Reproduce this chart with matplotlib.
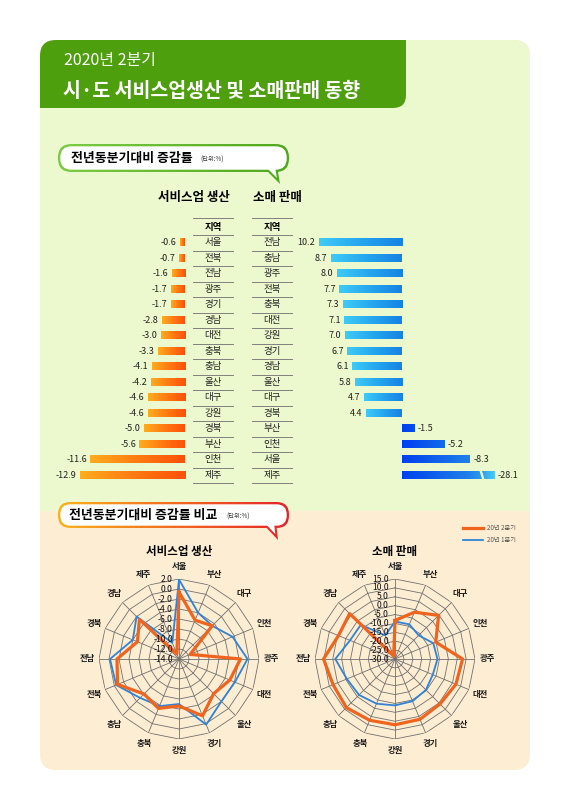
import numpy as np
import matplotlib
matplotlib.use("Agg")
import matplotlib.pyplot as plt
from matplotlib.patches import FancyBboxPatch, Rectangle, Polygon
from matplotlib.colors import LinearSegmentedColormap
from matplotlib.lines import Line2D
from matplotlib.transforms import blended_transform_factory

plt.rcParams['font.family'] = ['Noto Sans CJK KR', 'DejaVu Sans']
NARROW = ['Liberation Sans Narrow', 'Noto Sans CJK KR', 'DejaVu Sans']

# 서비스업 생산, 2020년 2분기 전년동분기대비 증감률 (%)
svc_regions = ['서울', '전북', '전남', '광주', '경기', '경남', '대전', '충북',
               '충남', '울산', '대구', '강원', '경북', '부산', '인천', '제주']
svc_values = [-0.6, -0.7, -1.6, -1.7, -1.7, -2.8, -3.0, -3.3,
              -4.1, -4.2, -4.6, -4.6, -5.0, -5.6, -11.6, -12.9]

# 소매 판매
retail_regions = ['전남', '충남', '광주', '전북', '충북', '대전', '강원', '경기',
                  '경남', '울산', '대구', '경북', '부산', '인천', '서울', '제주']
retail_values = [10.2, 8.7, 8.0, 7.7, 7.3, 7.1, 7.0, 6.7,
                 6.1, 5.8, 4.7, 4.4, -1.5, -5.2, -8.3, -28.1]

# 방사형 차트 (시계방향, 서울부터)
radar_regions = ['서울', '부산', '대구', '인천', '광주', '대전', '울산', '경기',
                 '강원', '충북', '충남', '전북', '전남', '경북', '경남', '제주']
svc_q1 = [1.9, -4.0, -4.6, -2.4, -0.3, -1.9, -2.0, 0.2,
          -5.0, -3.8, -3.0, -0.4, -0.2, -4.0, -2.0, -10.5]
retail_q1 = [-8.9, -8.9, -11.2, -6.7, -6.1, -7.0, -5.4, -4.3,
             -3.9, -2.8, -1.4, -0.7, 3.6, -2.6, -2.8, -15.6]
svc_ticks = [2.0, 0.0, -2.0, -4.0, -6.0, -8.0, -10.0, -12.0, -14.0]
retail_ticks = [15.0, 10.0, 5.0, 0.0, -5.0, -10.0, -15.0, -20.0, -25.0, -30.0]
legend_labels = ['20년 2분기', '20년 1분기']

ORANGE = '#f0641e'
BLUE = '#2f83d6'
GRID = '#707070'

W, H = 570, 806
fig = plt.figure(figsize=(W / 100, H / 100), dpi=100)
bg = fig.add_axes([0, 0, 1, 1])
bg.set_xlim(0, W)
bg.set_ylim(H, 0)
bg.axis('off')


def box(x0, y0, x1, y1):
    return [x0 / W, 1 - y1 / H, (x1 - x0) / W, (y1 - y0) / H]


# panel
panel = FancyBboxPatch((40, 40), 490, 730, boxstyle='round,pad=0,rounding_size=16',
                       fc='#fdedd3', ec='none', zorder=0)
bg.add_patch(panel)
top = Rectangle((40, 40), 490, 471, fc='#ecf8cd', ec='none', zorder=0.5)
bg.add_patch(top)
top.set_clip_path(panel)
banner = FancyBboxPatch((20, 20), 386, 88, boxstyle='round,pad=0,rounding_size=13',
                        fc='#4e9f0e', ec='none', zorder=1)
bg.add_patch(banner)
banner.set_clip_path(panel)
bg.text(64, 61, '2020년 2분기', color='white', fontsize=11.5, fontweight='medium',
        va='center', zorder=2)
bg.text(63, 91, '시·도 서비스업생산 및 소매판매 동향', color='white', fontsize=14,
        fontweight='bold', va='center', zorder=2)


def bubble(x0, y0, x1, y1, tail, colors):
    cmap = LinearSegmentedColormap.from_list('b', colors)
    r = (y1 - y0) * 0.48
    lw = 2.3
    outer = FancyBboxPatch((x0, y0), x1 - x0, y1 - y0,
                           boxstyle=f'round,pad=0,rounding_size={r}', fc='none', ec='none')
    bg.add_patch(outer)
    tx0, tx1, tip = tail
    tri = np.array([(tx0, y1 - 6), tip, (tx1, y1 - 6)], dtype=float)
    otri = Polygon(tri, fc='none', ec='none')
    bg.add_patch(otri)
    grad = np.linspace(0, 1, 256)[None, :]
    for clip in (outer, otri):
        im = bg.imshow(grad, cmap=cmap, extent=(x0, x1, tip[1] + 1, y0), aspect='auto', zorder=3)
        im.set_clip_path(clip)
    bg.add_patch(FancyBboxPatch((x0 + lw, y0 + lw), x1 - x0 - 2 * lw, y1 - y0 - 2 * lw,
                                boxstyle=f'round,pad=0,rounding_size={r - lw}',
                                fc='white', ec='none', zorder=4))
    a = np.linalg.norm(tri[1] - tri[2])
    b = np.linalg.norm(tri[0] - tri[2])
    c = np.linalg.norm(tri[0] - tri[1])
    inc = (a * tri[0] + b * tri[1] + c * tri[2]) / (a + b + c)
    u, v = tri[1] - tri[0], tri[2] - tri[0]
    area = abs(u[0] * v[1] - u[1] * v[0]) / 2
    rin = area / ((a + b + c) / 2)
    itri = inc + (tri - inc) * (rin - lw * 0.9) / rin
    bg.add_patch(Polygon(itri, fc='white', ec='none', zorder=4))


bubble(58, 144, 289, 172, (262, 277, (280, 184)), ['#7ccb45', '#4fa81c'])
bg.text(71, 158, '전년동분기대비 증감률', fontsize=9.3, fontweight='bold', va='center', zorder=5)
bg.text(200, 159.5, '(단위:%)', fontsize=4.5, va='center', color='#333333', zorder=5)

bubble(58, 502, 289, 528, (261, 276, (278, 540)), ['#f9b21d', '#f26b22', '#e5232b'])
bg.text(69, 515, '전년동분기대비 증감률 비교', fontsize=9.3, fontweight='bold', va='center', zorder=5)
bg.text(226, 516.5, '(단위:%)', fontsize=4.5, va='center', color='#333333', zorder=5)

# ---- bar charts ----
bg.text(194, 197, '서비스업 생산', fontsize=9, fontweight='bold', ha='center', va='center')
bg.text(277, 197, '소매 판매', fontsize=9, fontweight='bold', ha='center', va='center')

S = 8.15  # px per %
ROW_TOP, ROW_BOT = 235, 483
n = len(svc_values)
axL = fig.add_axes(box(185 - 14 * S, ROW_TOP, 185, ROW_BOT))
axR = fig.add_axes(box(402 - 12 * S, ROW_TOP, 402 + 12 * S, ROW_BOT))
for ax in (axL, axR):
    ax.axis('off')
    ax.patch.set_visible(False)

grad = np.linspace(0, 1, 256)[None, :]
org = LinearSegmentedColormap.from_list('o', ['#ffad1f', '#ff7a12', '#ff5008'])
cyan = LinearSegmentedColormap.from_list('c', ['#3fcbf7', '#24a6ee', '#1682e4'])
dblue = LinearSegmentedColormap.from_list('d', [(0, '#0040ef'), (0.7, '#1e7ee9'),
                                                 (0.84, '#2a97ec'), (1, '#48cbf6')])
half = 0.235
CLIP = -11.3
for i, v in enumerate(svc_values):
    axL.imshow(grad, cmap=org, extent=(v, 0, i + half, i - half), aspect='auto',
               interpolation='bilinear')
    axL.annotate(f'{v:.1f}', xy=(v, i), xytext=(-2.5, 0), textcoords='offset points',
                 ha='right', va='center', fontsize=6.5, family=NARROW, color='#222222')
for i, v in enumerate(retail_values):
    if v > 0:
        axR.imshow(grad, cmap=cyan, extent=(v, 0, i + half, i - half), aspect='auto',
                   interpolation='bilinear')
        axR.annotate(f'{v:.1f}', xy=(v, i), xytext=(-2.5, 0), textcoords='offset points',
                     ha='right', va='center', fontsize=6.5, family=NARROW, color='#222222')
    else:
        c = max(v, CLIP)
        g = np.linspace(0, c / CLIP, 256)[None, :]
        axR.imshow(g, cmap=dblue, vmin=0, vmax=1, extent=(0, c, i + half, i - half),
                   aspect='auto', interpolation='bilinear')
        axR.annotate(f'{v:.1f}', xy=(c, i), xytext=(2.5, 0), textcoords='offset points',
                     ha='left', va='center', fontsize=6.5, family=NARROW, color='#222222')
        if v < CLIP:
            axR.add_patch(Polygon([(-9.5, i - 0.3), (-9.8, i - 0.3), (-10.15, i + 0.3),
                                   (-9.85, i + 0.3)], fc='#ecf8cd', ec='none', zorder=5))
axL.set_xlim(-14, 0)
axR.set_xlim(12, -12)
for ax in (axL, axR):
    ax.set_ylim(n - 0.5, -0.5)

# table columns
tr = blended_transform_factory(bg.transData, axL.transData)
cols = [(193, 233, svc_regions), (252, 292, retail_regions)]
for x0, x1, names in cols:
    xc = (x0 + x1) / 2
    bg.plot([x0, x1], [218, 218], color='#808080', lw=0.7)
    bg.text(xc, 227, '지역', fontsize=6.8, fontweight='bold', ha='center', va='center')
    for k in range(n + 1):
        bg.plot([x0, x1], [k - 0.5, k - 0.5], color='#808080', lw=0.7, transform=tr)
    for i, name in enumerate(names):
        bg.text(xc, i, name, fontsize=6.8, ha='center', va='center', transform=tr,
                color='#222222')

# ---- radar charts ----
ang = np.linspace(0, 2 * np.pi, len(radar_regions), endpoint=False)
ring = np.r_[ang, ang[:1]]


def radar(cx, cy, title, q2, q1, ticks):
    ax = fig.add_axes(box(cx - 80, cy - 80, cx + 80, cy + 80), projection='polar')
    ax.set_theta_zero_location('N')
    ax.set_theta_direction(-1)
    lo, hi = min(ticks), max(ticks)
    for t in ticks:
        if t > lo:
            ax.plot(ring, [t] * len(ring), color=GRID, lw=0.6, zorder=1)
    for a in ang:
        ax.plot([a, a], [lo, hi], color=GRID, lw=0.6, zorder=1)
    l1, = ax.plot(ring, np.r_[q1, q1[:1]], color=BLUE, lw=1.3, zorder=3)
    l2, = ax.plot(ring, np.r_[q2, q2[:1]], color=ORANGE, lw=2.3, zorder=4)
    ax.set_ylim(lo, hi)
    ax.set_xticks([])
    ax.set_yticks([])
    ax.grid(False)
    ax.spines['polar'].set_visible(False)
    ax.patch.set_visible(False)
    rl = hi + (hi - lo) * 12 / 80
    for a, name in zip(ang, radar_regions):
        ax.text(a, rl, name, ha='center', va='center', fontsize=6, fontweight='bold',
                color='#1a1a1a')
    for t in ticks:
        ax.annotate(f'{t:.1f}', xy=(0, t), xytext=(-4.5, 0), textcoords='offset points',
                    ha='right', va='center', fontsize=6.2, family=NARROW, color='#111111',
                    zorder=5)
    bg.text(cx, 551, title, fontsize=8.3, fontweight='bold', ha='center', va='center')
    return l2, l1


svc_map = dict(zip(svc_regions, svc_values))
ret_map = dict(zip(retail_regions, retail_values))
svc_q2 = [svc_map[r] for r in radar_regions]
retail_q2 = [ret_map[r] for r in radar_regions]

handles = radar(179, 659, '서비스업 생산', svc_q2, svc_q1, svc_ticks)
radar(395, 659, '소매 판매', retail_q2, retail_q1, retail_ticks)

fig.legend(handles, legend_labels, loc='upper left', bbox_to_anchor=(463 / W, 1 - 524 / H),
           frameon=False, fontsize=4.5, handlelength=3.2, labelspacing=0.7,
           handletextpad=0.6, borderpad=0, borderaxespad=0, labelcolor='#555555')

bg.set_xlim(0, W)
bg.set_ylim(H, 0)
fig.savefig('out.png', dpi=100)
